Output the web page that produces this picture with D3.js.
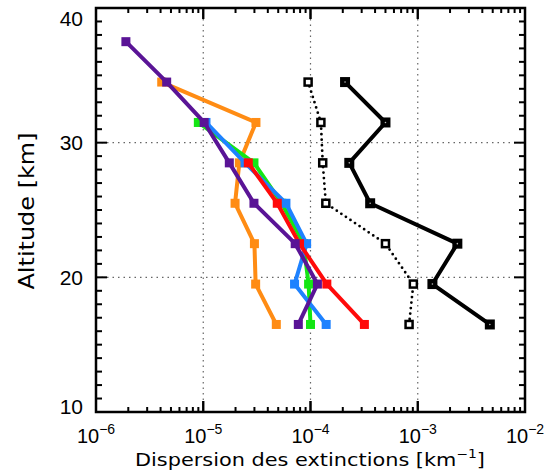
<!DOCTYPE html>
<html><head><meta charset="utf-8">
<script src="https://cdn.jsdelivr.net/npm/d3@7/dist/d3.min.js"></script>
<style>body{margin:0;background:#fff}svg{display:block}</style>
</head><body>
<svg id="c" width="547" height="474"></svg>
<script>
// Data
const altitudes = [16.5, 19.5, 22.5, 25.5, 28.5, 31.5, 34.5, 37.5];
const orange = [4.8e-5, 3.08e-5, 3.0e-5, 1.98e-5, 2.17e-5, 3.1e-5, 4.1e-6, null];
const green  = [1.0e-4, 9.6e-5, 8.6e-5, 5.4e-5, 2.97e-5, 9.0e-6, null, null];
const blue   = [1.4e-4, 7.1e-5, 9.2e-5, 5.9e-5, 2.45e-5, 1.06e-5, null, null];
const red    = [3.18e-4, 1.42e-4, 7.9e-5, 4.9e-5, 2.63e-5, null, null, null];
const purple = [7.7e-5, 1.16e-4, 7.2e-5, 2.97e-5, 1.75e-5, 1.02e-5, 4.56e-6, 1.9e-6];
const blackDotted = [8.3e-4, 9.1e-4, 5.0e-4, 1.39e-4, 1.3e-4, 1.25e-4, 9.5e-5, null];
const blackSolid  = [4.7e-3, 1.37e-3, 2.34e-3, 3.6e-4, 2.3e-4, 5.0e-4, 2.1e-4, null];
const xTickExps = [-6, -5, -4, -3, -2];
const yTicks = [10, 20, 30, 40];
const xTitle = "Dispersion des extinctions [km";
const yTitle = "Altitude [km]";

const series = [
  {v: orange, color: "#ff8c14", kind: "color"},
  {v: green, color: "#14e614", kind: "color"},
  {v: blue, color: "#1e82ff", kind: "color"},
  {v: red, color: "#ff0a0a", kind: "color"},
  {v: purple, color: "#5a1496", kind: "color"},
  {v: blackDotted, color: "#000", kind: "dotted"},
  {v: blackSolid, color: "#000", kind: "solid"}
];

const L = 96, R = 525, T = 8, B = 412;
const svg = d3.select("#c");
const x = d3.scaleLog().domain([1e-6, 1e-2]).range([L, R]);
const y = d3.scaleLinear().domain([10, 40]).range([B, T]);

// gridlines
const grid = svg.append("g").attr("stroke", "#666").attr("stroke-width", 1.2).attr("stroke-dasharray", "1.5,4");
[-5, -4, -3].forEach(e => grid.append("line").attr("x1", x(Math.pow(10, e))).attr("x2", x(Math.pow(10, e))).attr("y1", T).attr("y2", B));
[20, 30].forEach(v => grid.append("line").attr("x1", L).attr("x2", R).attr("y1", y(v)).attr("y2", y(v)));

// series
series.forEach(s => {
  const pts = altitudes.map((a, i) => ({a, v: s.v[i]})).filter(d => d.v != null);
  const line = d3.line().x(d => x(d.v)).y(d => y(d.a));
  const p = svg.append("path").datum(pts).attr("d", line).attr("fill", "none").attr("stroke", s.color);
  if (s.kind === "dotted") {
    p.attr("stroke-width", 2.8).attr("stroke-dasharray", "0,5.5").attr("stroke-linecap", "round");
  } else {
    p.attr("stroke-width", 4).attr("stroke-linejoin", "round");
  }
  const g = svg.append("g");
  if (s.kind === "color") {
    g.selectAll("rect").data(pts).join("rect")
      .attr("x", d => x(d.v) - 4.5).attr("y", d => y(d.a) - 4.5).attr("width", 9).attr("height", 9)
      .attr("fill", s.color);
  } else if (s.kind === "dotted") {
    g.selectAll("rect").data(pts).join("rect")
      .attr("x", d => x(d.v) - 3.5).attr("y", d => y(d.a) - 3.5).attr("width", 7).attr("height", 7)
      .attr("fill", "#fff").attr("stroke", "#000").attr("stroke-width", 2.5);
  } else {
    g.selectAll("rect").data(pts).join("rect")
      .attr("x", d => x(d.v) - 5).attr("y", d => y(d.a) - 5).attr("width", 10).attr("height", 10)
      .attr("fill", "#000");
    g.selectAll("circle").data(pts).join("circle")
      .attr("cx", d => x(d.v)).attr("cy", d => y(d.a)).attr("r", 0.8).attr("fill", "#bbb");
  }
});

// ticks
const tk = svg.append("g").attr("stroke", "#000").attr("stroke-width", 2);
for (let a = 10; a <= 40; a++) {
  const len = a % 10 === 0 ? 11 : 6;
  tk.append("line").attr("x1", L).attr("x2", L + len).attr("y1", y(a)).attr("y2", y(a));
  tk.append("line").attr("x1", R).attr("x2", R - len).attr("y1", y(a)).attr("y2", y(a));
}
for (let e = -6; e < -2; e++) {
  for (let m = 1; m <= 10; m++) {
    const v = m * Math.pow(10, e);
    const len = (m === 1 || m === 10) ? 11 : 5;
    tk.append("line").attr("x1", x(v)).attr("x2", x(v)).attr("y1", B).attr("y2", B - len);
    tk.append("line").attr("x1", x(v)).attr("x2", x(v)).attr("y1", T).attr("y2", T + len);
  }
}
// frame
svg.append("rect").attr("x", L).attr("y", T).attr("width", R - L).attr("height", B - T)
  .attr("fill", "none").attr("stroke", "#000").attr("stroke-width", 2.5);

const font = "'Liberation Sans', Arial, sans-serif";
const tfont = "'DejaVu Sans', sans-serif";
// x tick labels
xTickExps.forEach(e => {
  const t = svg.append("text").attr("x", x(Math.pow(10, e))).attr("y", 443)
    .attr("text-anchor", "middle").attr("font-family", font).attr("font-size", 20).attr("fill", "#000");
  t.append("tspan").text("10");
  t.append("tspan").attr("font-size", 14).attr("dy", -9).text("\u2212" + (-e));
});
// y tick labels
const yOff = {10: -6, 20: 0, 30: 0, 40: 10};
yTicks.forEach(v => {
  svg.append("text").attr("x", 83).attr("y", y(v) + 7.5 + yOff[v]).attr("text-anchor", "end")
    .attr("font-family", font).attr("font-size", 21).attr("fill", "#000").text(v);
});
// titles
const xt = svg.append("text").attr("x", 310).attr("y", 466).attr("text-anchor", "middle")
  .attr("font-family", tfont).attr("font-size", 18).attr("fill", "#000")
  .attr("textLength", 350).attr("lengthAdjust", "spacingAndGlyphs");
xt.append("tspan").text(xTitle);
xt.append("tspan").attr("font-size", 12).attr("dy", -8).text("\u22121");
xt.append("tspan").attr("dy", 8).text("]");

svg.append("text").attr("transform", "translate(34,211) rotate(-90)").attr("text-anchor", "middle")
  .attr("font-family", tfont).attr("font-size", 21).attr("fill", "#000")
  .attr("textLength", 157).attr("lengthAdjust", "spacingAndGlyphs").text(yTitle);
</script>
</body></html>
